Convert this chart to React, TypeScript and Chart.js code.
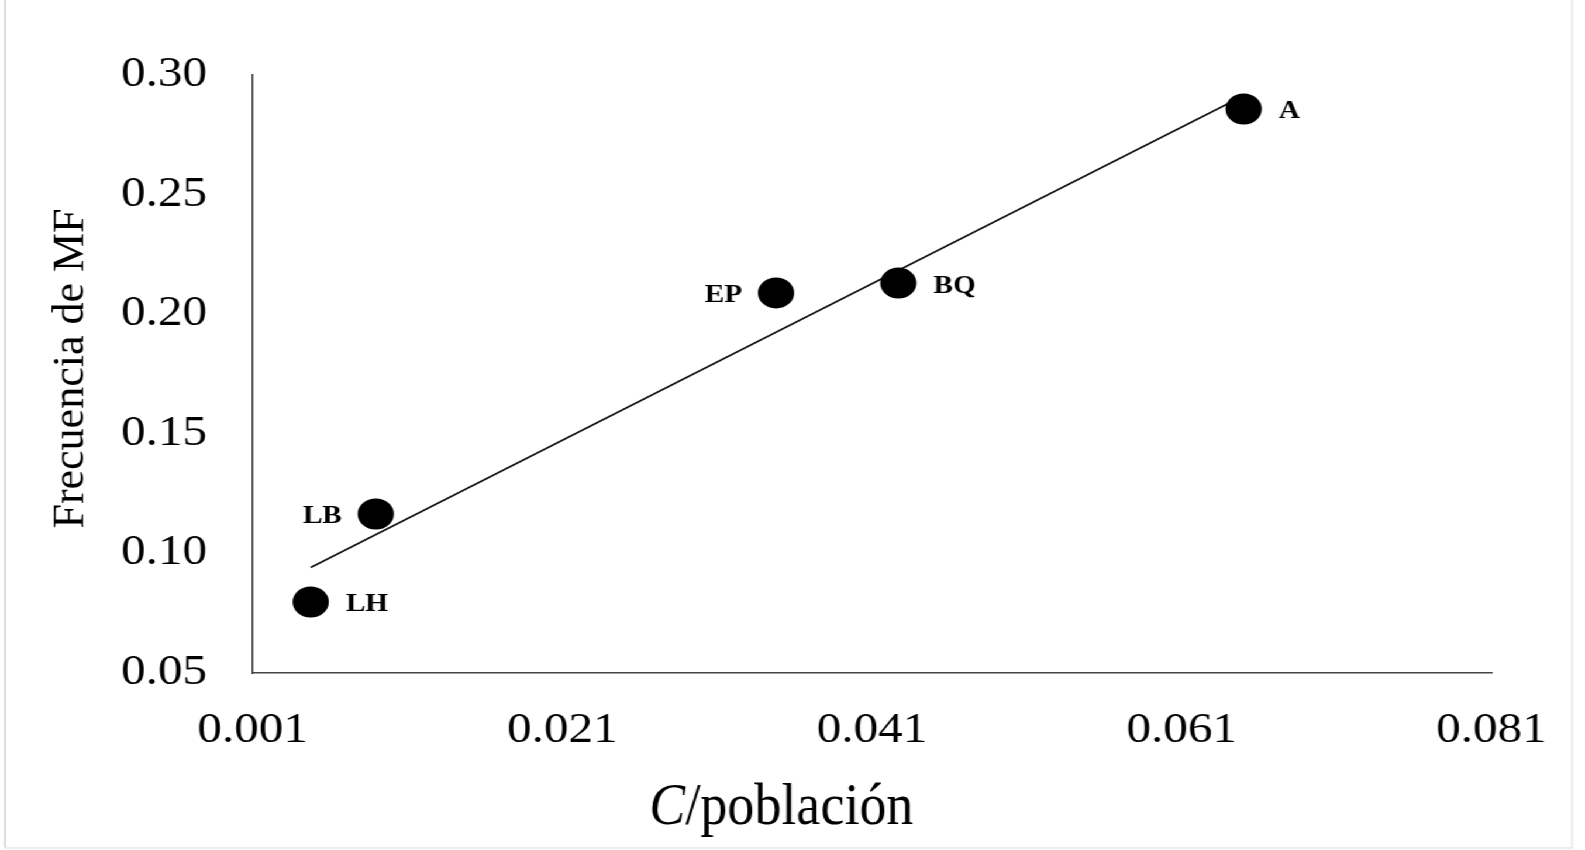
import React, { useEffect, useRef } from "react";
import { Chart, registerables } from "chart.js";

Chart.register(...registerables);

// Sites and their values
const siteLabels = ["LH", "LB", "EP", "BQ", "A"];
const cPerPopulation = [0.00475, 0.00895, 0.0348, 0.0427, 0.065];
const mfFrequency = [0.0797, 0.1165, 0.2089, 0.213, 0.2858];
const labelSides = ["right", "left", "left", "right", "right"];

// Fitted trend line end points
const trendX = [0.00475, 0.065];
const trendY = [0.0941, 0.2913];

// Axis ticks
const xTickValues = [0.001, 0.021, 0.041, 0.061, 0.081];
const yTickValues = [0.05, 0.1, 0.15, 0.2, 0.25, 0.3];

const xTitleItalic = "C";
const xTitleRest = "/población";
const yTitle = "Frecuencia de MF";

const CANVAS_W = 1355;
const CANVAS_H = 850;
const STRETCH_X = 1585 / CANVAS_W;
const SERIF = '"Liberation Serif", "Times New Roman", serif';

const pageFrame = {
  id: "pageFrame",
  beforeDraw(chart: any) {
    const { ctx, width, height } = chart;
    ctx.save();
    ctx.fillStyle = "#ffffff";
    ctx.fillRect(0, 0, width, height);
    ctx.lineWidth = 1.5;
    ctx.strokeStyle = "#d0d0d0";
    ctx.beginPath();
    ctx.moveTo(4.3, 0);
    ctx.lineTo(4.3, 848);
    ctx.stroke();
    ctx.strokeStyle = "#e8e8e8";
    ctx.beginPath();
    ctx.moveTo(4.3, 848);
    ctx.lineTo(1344, 848);
    ctx.lineTo(1344, 0);
    ctx.stroke();
    ctx.restore();
  },
};

const axisTitles = {
  id: "axisTitles",
  afterDraw(chart: any) {
    const { ctx } = chart;
    ctx.save();
    ctx.fillStyle = "#000";

    // vertical title, drawn without the page's horizontal stretch
    ctx.save();
    ctx.translate(71, 368.5);
    ctx.scale(1 / STRETCH_X, 1);
    ctx.rotate(-Math.PI / 2);
    ctx.font = `44px ${SERIF}`;
    ctx.textAlign = "center";
    ctx.textBaseline = "alphabetic";
    ctx.fillText(yTitle, 0, 0);
    ctx.restore();

    // horizontal title with an italic C
    ctx.save();
    ctx.translate(668, 824);
    ctx.scale(0.77, 1);
    ctx.textBaseline = "alphabetic";
    ctx.textAlign = "left";
    const italicFont = `italic 60px ${SERIF}`;
    const regularFont = `60px ${SERIF}`;
    ctx.font = italicFont;
    const wC = ctx.measureText(xTitleItalic).width;
    ctx.font = regularFont;
    const wRest = ctx.measureText(xTitleRest).width;
    const start = -(wC + wRest) / 2;
    ctx.font = italicFont;
    ctx.fillText(xTitleItalic, start, 0);
    ctx.font = regularFont;
    ctx.fillText(xTitleRest, start + wC, 0);
    ctx.restore();

    ctx.restore();
  },
};

const siteNames = {
  id: "siteNames",
  afterDatasetsDraw(chart: any) {
    const { ctx } = chart;
    const meta = chart.getDatasetMeta(0);
    ctx.save();
    ctx.font = `bold 25px ${SERIF}`;
    ctx.fillStyle = "#000";
    ctx.textBaseline = "middle";
    meta.data.forEach((pt: any, i: number) => {
      const right = labelSides[i] === "right";
      ctx.textAlign = right ? "left" : "right";
      ctx.fillText(siteLabels[i], pt.x + (right ? 30 : -29), pt.y + 3);
    });
    ctx.restore();
  },
};

export default function App() {
  const canvasRef = useRef<HTMLCanvasElement | null>(null);

  useEffect(() => {
    if (!canvasRef.current) return;
    const chart = new Chart(canvasRef.current, {
      type: "scatter",
      data: {
        datasets: [
          {
            type: "scatter",
            label: "Sitios",
            data: cPerPopulation.map((x, i) => ({ x, y: mfFrequency[i] })),
            pointRadius: 15.5,
            pointHoverRadius: 15.5,
            backgroundColor: "#000",
            borderWidth: 0,
            order: 0,
          },
          {
            type: "line",
            label: "Tendencia",
            data: trendX.map((x, i) => ({ x, y: trendY[i] })),
            borderColor: "#111",
            borderWidth: 1.6,
            pointRadius: 0,
            fill: false,
            order: 1,
          },
        ],
      },
      options: {
        responsive: false,
        animation: false,
        devicePixelRatio: 1,
        layout: { padding: { top: 75, right: 80, left: 0, bottom: 0 } },
        plugins: {
          legend: { display: false },
          tooltip: { enabled: false },
        },
        scales: {
          x: {
            type: "linear",
            min: 0.001,
            max: 0.081,
            afterBuildTicks: (s: any) => {
              s.ticks = xTickValues.map((value) => ({ value }));
            },
            afterFit: (s: any) => {
              s.height = 177;
            },
            ticks: {
              callback: (v: any) => Number(v).toFixed(3),
              font: { family: SERIF, size: 42 },
              color: "#000",
              padding: 25,
              maxRotation: 0,
              autoSkip: false,
            },
            grid: { display: false },
            border: { display: true, color: "#444", width: 1.5 },
          },
          y: {
            type: "linear",
            min: 0.05,
            max: 0.3,
            afterBuildTicks: (s: any) => {
              s.ticks = yTickValues.map((value) => ({ value }));
            },
            afterFit: (s: any) => {
              s.width = 216;
            },
            ticks: {
              callback: (v: any) => Number(v).toFixed(2),
              font: { family: SERIF, size: 42 },
              color: "#000",
              padding: 31,
              autoSkip: false,
            },
            grid: { display: false },
            border: { display: true, color: "#444", width: 1.5 },
          },
        },
      },
      plugins: [pageFrame, axisTitles, siteNames],
    });
    return () => chart.destroy();
  }, []);

  return (
    <div
      style={{
        position: "fixed",
        left: 0,
        top: 0,
        width: CANVAS_W,
        height: CANVAS_H,
        transform: `scaleX(${STRETCH_X})`,
        transformOrigin: "0 0",
        background: "#fff",
      }}
    >
      <canvas ref={canvasRef} width={CANVAS_W} height={CANVAS_H} style={{ display: "block" }} />
    </div>
  );
}
